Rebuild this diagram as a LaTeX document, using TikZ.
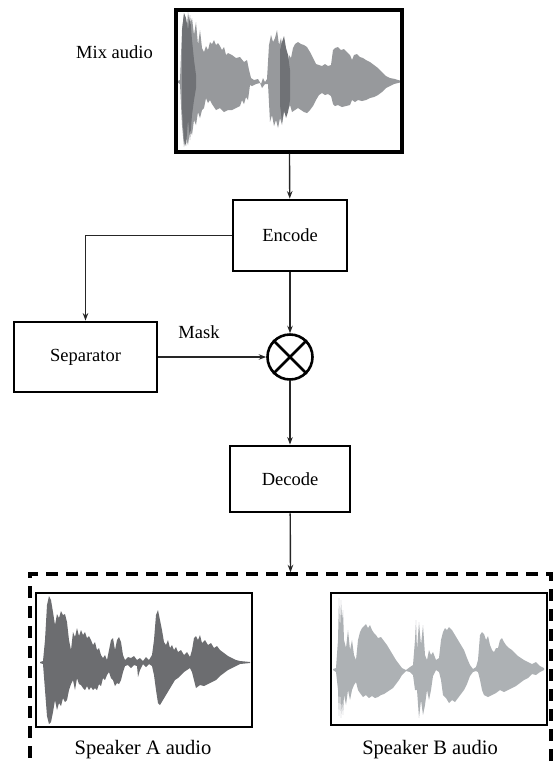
\documentclass[tikz,border=0pt]{standalone}
\usepackage{fontspec}
\setmainfont{Liberation Serif}
\usetikzlibrary{positioning,arrows.meta}
\definecolor{wavmix}{HTML}{97999C}
\definecolor{wavdark}{HTML}{707276}
\definecolor{wava}{HTML}{6C6D70}
\definecolor{wavb}{HTML}{ADB1B4}
\tikzset{blk/.style={draw,line width=2.8pt,inner sep=0pt,font=\fontsize{18.5}{22}\selectfont},
arr/.style={line width=1.4pt,draw=black!85,-{Stealth[length=7.5pt,width=5.5pt]}},
lbl/.style={font=\fontsize{18.5}{22}\selectfont}}

\begin{document}
\begin{tikzpicture}[x=1pt,y=-1pt]
\useasboundingbox (0,0) rectangle (560,764);
\clip (0,0) rectangle (560,764);
% mix audio wave
\fill[wavmix] (177,81)--(180,80)--(182,30)--(184,14)--(186,40)--(188,12)--(190,25)--(192,18)--(194,35)--(196,22)--(198,45)--(200,30)--(202,48)--(204,52)--(206,46)--(208,50)--(210,42)--(212,44)--(214,40)--(216,45)--(218,43)--(220,46)--(222,50)--(224,47)--(226,55)--(228,53)--(232,55)--(236,58)--(240,57)--(244,62)--(247,60)--(249,70)--(251,78)--(254,80)--(258,79)--(261,84)--(263,78)--(265,82)--(267,79)--(269,45)--(271,35)--(273,42)--(275,38)--(277,30)--(279,45)--(281,38)--(283,52)--(285,55)--(287,65)--(289,55)--(291,58)--(293,48)--(295,44)--(298,42)--(301,44)--(304,45)--(307,47)--(310,52)--(313,58)--(316,64)--(319,65)--(322,66)--(325,64)--(328,66)--(331,65)--(333,50)--(335,48)--(338,47)--(341,50)--(344,49)--(347,52)--(350,55)--(352,60)--(354,55)--(357,54)--(360,57)--(363,58)--(366,60)--(370,62)--(374,65)--(378,68)--(382,72)--(386,76)--(390,78)--(395,79)--(398,80)--(402,81)
--(402,82)--(398,83)--(394,84)--(390,86)--(386,88)--(382,92)--(378,95)--(374,97)--(370,98)--(366,100)--(362,101)--(358,100)--(355,102)--(352,100)--(350,105)--(346,106)--(342,107)--(338,105)--(335,106)--(333,104)--(331,96)--(328,94)--(325,95)--(322,93)--(319,95)--(316,100)--(313,106)--(310,110)--(307,113)--(304,112)--(301,110)--(298,108)--(295,110)--(292,112)--(290,105)--(288,110)--(286,115)--(284,112)--(282,125)--(280,118)--(278,128)--(276,120)--(274,126)--(272,115)--(270,122)--(268,84)--(265,84)--(262,88)--(260,83)--(256,84)--(252,86)--(250,85)--(248,100)--(246,97)--(244,104)--(242,100)--(240,106)--(236,108)--(232,110)--(228,110)--(224,112)--(220,108)--(216,110)--(212,104)--(210,100)--(208,103)--(206,98)--(204,108)--(202,110)--(200,118)--(198,112)--(196,125)--(194,120)--(192,135)--(190,130)--(188,145)--(186,138)--(184,147)--(182,125)--(180,84)--(177,82)--cycle;
\fill[wavdark] (182,30)--(184,13)--(186,18)--(188,30)--(190,15)--(192,40)--(194,60)--(196,75)--(196,88)--(194,100)--(192,115)--(190,140)--(188,120)--(186,146)--(184,140)--(182,110)--cycle;
\fill[wavdark] (280,50)--(282,42)--(284,36)--(286,48)--(288,55)--(290,70)--(290,100)--(288,112)--(286,118)--(284,110)--(282,122)--(280,105)--cycle;
% speaker A wave
\fill[wava] (40,662)--(43,661)--(45,640)--(47,605)--(49,596)--(51,600)--(53,612)--(55,625)--(57,614)--(59,618)--(61,611)--(63,615)--(65,614)--(67,622)--(69,640)--(71,650)--(73,632)--(75,637)--(77,628)--(79,636)--(81,630)--(83,635)--(85,632)--(87,638)--(89,636)--(91,640)--(93,645)--(95,642)--(97,650)--(99,648)--(101,655)--(103,658)--(105,655)--(107,660)--(109,650)--(111,640)--(113,638)--(115,650)--(117,640)--(119,637)--(121,642)--(123,655)--(125,660)--(128,657)--(131,658)--(134,656)--(137,660)--(140,658)--(143,661)--(146,657)--(149,660)--(152,655)--(154,640)--(156,615)--(158,610)--(160,620)--(162,630)--(164,642)--(166,645)--(168,640)--(170,648)--(172,645)--(174,650)--(176,647)--(178,652)--(181,650)--(184,655)--(187,652)--(190,657)--(192,650)--(194,638)--(196,636)--(198,640)--(200,635)--(202,643)--(205,640)--(208,645)--(211,643)--(214,648)--(217,646)--(220,650)--(224,653)--(228,656)--(232,658)--(236,660)--(240,661)--(250,662)
--(250,663)--(240,664)--(236,666)--(232,668)--(228,670)--(224,673)--(220,676)--(216,680)--(212,682)--(208,684)--(204,686)--(200,685)--(196,688)--(194,680)--(192,672)--(190,668)--(187,670)--(184,672)--(181,675)--(178,678)--(175,680)--(172,685)--(169,690)--(166,695)--(163,700)--(160,705)--(158,703)--(156,690)--(154,675)--(152,666)--(149,664)--(146,667)--(143,664)--(140,670)--(138,677)--(137,666)--(134,665)--(131,668)--(128,665)--(125,666)--(123,672)--(121,680)--(119,684)--(117,683)--(115,686)--(113,680)--(111,678)--(109,672)--(107,675)--(105,680)--(103,678)--(101,686)--(99,684)--(97,690)--(95,688)--(93,690)--(91,687)--(89,690)--(87,686)--(85,690)--(83,688)--(81,685)--(79,684)--(77,678)--(75,690)--(73,680)--(71,684)--(69,690)--(67,700)--(65,702)--(63,698)--(61,706)--(59,703)--(57,710)--(55,700)--(53,712)--(51,722)--(49,724)--(47,716)--(45,690)--(43,664)--(40,663)--cycle;
% speaker B wave
\fill[wavb] (333,669)--(336,668)--(338,640)--(339,598)--(340,630)--(341,600)--(342,620)--(343,610)--(344,640)--(346,648)--(348,630)--(350,650)--(352,640)--(354,655)--(356,660)--(358,640)--(360,632)--(362,628)--(364,626)--(366,624)--(368,628)--(370,625)--(372,630)--(374,633)--(376,635)--(378,638)--(381,637)--(384,641)--(387,645)--(390,650)--(393,655)--(396,660)--(399,664)--(402,668)--(406,670)--(410,667)--(413,665)--(415,640)--(416,620)--(417,650)--(419,622)--(421,645)--(423,625)--(425,655)--(427,660)--(429,650)--(431,655)--(433,652)--(436,660)--(439,658)--(441,640)--(443,632)--(445,628)--(447,630)--(449,627)--(452,630)--(455,635)--(458,640)--(461,645)--(464,650)--(467,658)--(470,665)--(473,669)--(476,667)--(478,660)--(480,635)--(482,632)--(484,634)--(486,640)--(488,636)--(490,645)--(492,650)--(494,652)--(496,648)--(498,648)--(500,640)--(502,638)--(504,642)--(506,645)--(509,648)--(512,650)--(515,653)--(518,656)--(521,658)--(524,660)--(528,662)--(532,664)--(536,662)--(540,666)--(544,668)
--(544,670)--(540,672)--(536,675)--(532,674)--(528,678)--(524,680)--(520,683)--(516,686)--(512,688)--(508,690)--(504,692)--(500,690)--(496,693)--(492,695)--(488,697)--(484,695)--(482,690)--(480,680)--(478,672)--(476,671)--(473,672)--(470,676)--(467,684)--(464,690)--(461,694)--(458,698)--(455,702)--(452,700)--(449,703)--(446,698)--(443,695)--(441,680)--(439,672)--(436,670)--(433,676)--(431,690)--(429,700)--(427,690)--(425,705)--(423,715)--(421,700)--(419,718)--(417,690)--(415,690)--(413,675)--(410,672)--(406,671)--(402,675)--(399,680)--(396,684)--(393,688)--(390,690)--(387,692)--(384,694)--(381,695)--(378,697)--(375,698)--(372,696)--(369,698)--(366,695)--(363,697)--(360,693)--(358,690)--(356,682)--(354,685)--(352,690)--(350,700)--(348,690)--(346,705)--(344,695)--(343,715)--(342,700)--(341,718)--(340,690)--(339,716)--(338,690)--(336,672)--(333,670)--cycle;
% blocks
\node[blk,minimum width=226pt,minimum height=142pt,line width=3.2pt](mix)at(289,81){};
\node[lbl](mixlbl)at(114.5,52){Mix audio};
\node[blk,minimum width=114pt,minimum height=71pt](enc)at(290,235.5){Encode};
\node[blk,minimum width=143pt,minimum height=70pt](sep)at(85.5,357){Separator};
\node[draw,circle,line width=2.6pt,minimum size=45pt,inner sep=0pt](mul)at(290,357){};
\draw[line width=2.6pt](mul.north west)--(mul.south east)(mul.north east)--(mul.south west);
\node[lbl](mask)at(199,332){Mask};
\node[blk,minimum width=120pt,minimum height=66pt](dec)at(290,479){Decode};
\node[draw,line width=3.3pt,dash pattern=on 12pt off 8pt,minimum width=521pt,minimum height=226pt](out)at(290.5,687){};
\node[blk,minimum width=216pt,minimum height=134pt](spka)at(144,660){};
\node[blk,minimum width=216pt,minimum height=132pt](spkb)at(439,659){};
\node[lbl,font=\fontsize{20.5}{24}\selectfont](spkalbl)at(143,750){Speaker A audio};
\node[lbl,font=\fontsize{20.5}{24}\selectfont](spkblbl)at(430,750){Speaker B audio};
% connectors
\draw[arr](mix)--(enc);
\draw[arr](enc.west)-|(sep.north);
\draw[arr](enc)--(mul);
\draw[arr](sep)--(mul);
\draw[arr](mul)--(dec);
\draw[arr](dec)--(out.north);
\end{tikzpicture}
\end{document}
